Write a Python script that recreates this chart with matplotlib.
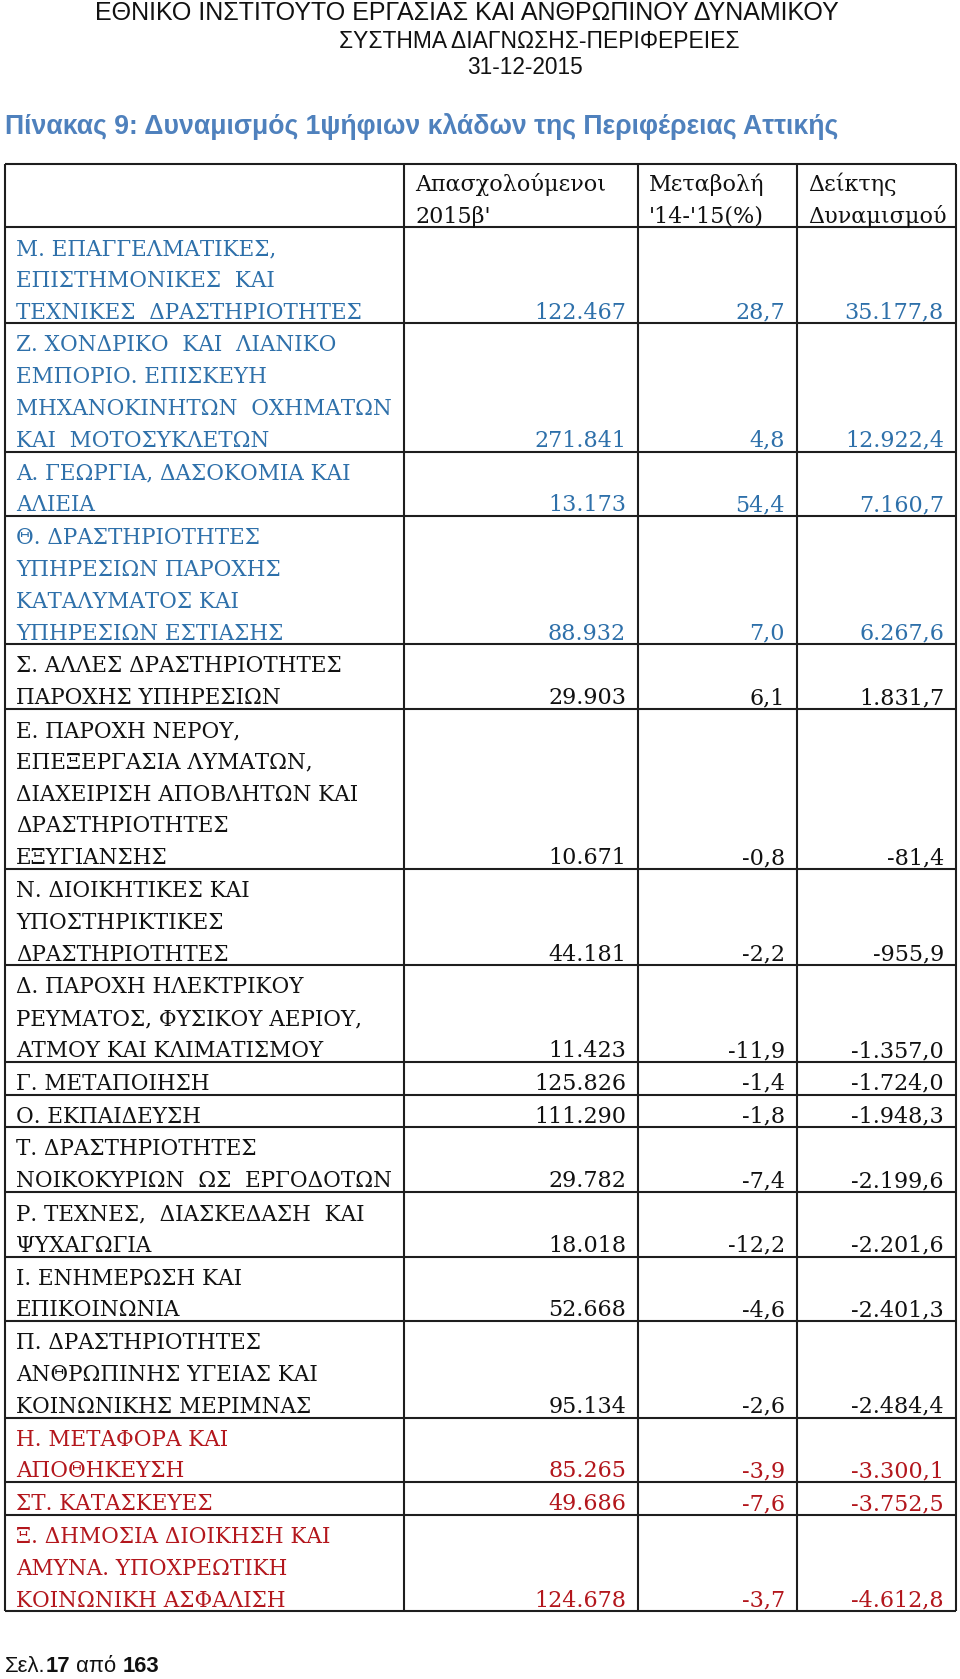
import numpy as np
import matplotlib
matplotlib.use("Agg")
import matplotlib.pyplot as plt

# page header / title
org_lines = ["ΕΘΝΙΚΟ ΙΝΣΤΙΤΟΥΤΟ ΕΡΓΑΣΙΑΣ ΚΑΙ ΑΝΘΡΩΠΙΝΟΥ ΔΥΝΑΜΙΚΟΥ",
             "ΣΥΣΤΗΜΑ ΔΙΑΓΝΩΣΗΣ-ΠΕΡΙΦΕΡΕΙΕΣ",
             "31-12-2015"]
title = "Πίνακας 9: Δυναμισμός 1ψήφιων κλάδων της Περιφέρειας Αττικής"
col_heads = ["Απασχολούμενοι\n2015β'", "Μεταβολή\n'14-'15(%)", "Δείκτης\nΔυναμισμού"]

# table data
sectors = [
    "Μ. ΕΠΑΓΓΕΛΜΑΤΙΚΕΣ,\nΕΠΙΣΤΗΜΟΝΙΚΕΣ  ΚΑΙ\nΤΕΧΝΙΚΕΣ  ΔΡΑΣΤΗΡΙΟΤΗΤΕΣ",
    "Ζ. ΧΟΝΔΡΙΚΟ  ΚΑΙ  ΛΙΑΝΙΚΟ\nΕΜΠΟΡΙΟ. ΕΠΙΣΚΕΥΗ\nΜΗΧΑΝΟΚΙΝΗΤΩΝ  ΟΧΗΜΑΤΩΝ\nΚΑΙ  ΜΟΤΟΣΥΚΛΕΤΩΝ",
    "Α. ΓΕΩΡΓΙΑ, ΔΑΣΟΚΟΜΙΑ ΚΑΙ\nΑΛΙΕΙΑ",
    "Θ. ΔΡΑΣΤΗΡΙΟΤΗΤΕΣ\nΥΠΗΡΕΣΙΩΝ ΠΑΡΟΧΗΣ\nΚΑΤΑΛΥΜΑΤΟΣ ΚΑΙ\nΥΠΗΡΕΣΙΩΝ ΕΣΤΙΑΣΗΣ",
    "Σ. ΑΛΛΕΣ ΔΡΑΣΤΗΡΙΟΤΗΤΕΣ\nΠΑΡΟΧΗΣ ΥΠΗΡΕΣΙΩΝ",
    "Ε. ΠΑΡΟΧΗ ΝΕΡΟΥ,\nΕΠΕΞΕΡΓΑΣΙΑ ΛΥΜΑΤΩΝ,\nΔΙΑΧΕΙΡΙΣΗ ΑΠΟΒΛΗΤΩΝ ΚΑΙ\nΔΡΑΣΤΗΡΙΟΤΗΤΕΣ\nΕΞΥΓΙΑΝΣΗΣ",
    "Ν. ΔΙΟΙΚΗΤΙΚΕΣ ΚΑΙ\nΥΠΟΣΤΗΡΙΚΤΙΚΕΣ\nΔΡΑΣΤΗΡΙΟΤΗΤΕΣ",
    "Δ. ΠΑΡΟΧΗ ΗΛΕΚΤΡΙΚΟΥ\nΡΕΥΜΑΤΟΣ, ΦΥΣΙΚΟΥ ΑΕΡΙΟΥ,\nΑΤΜΟΥ ΚΑΙ ΚΛΙΜΑΤΙΣΜΟΥ",
    "Γ. ΜΕΤΑΠΟΙΗΣΗ",
    "Ο. ΕΚΠΑΙΔΕΥΣΗ",
    "Τ. ΔΡΑΣΤΗΡΙΟΤΗΤΕΣ\nΝΟΙΚΟΚΥΡΙΩΝ  ΩΣ  ΕΡΓΟΔΟΤΩΝ",
    "Ρ. ΤΕΧΝΕΣ,  ΔΙΑΣΚΕΔΑΣΗ  ΚΑΙ\nΨΥΧΑΓΩΓΙΑ",
    "Ι. ΕΝΗΜΕΡΩΣΗ ΚΑΙ\nΕΠΙΚΟΙΝΩΝΙΑ",
    "Π. ΔΡΑΣΤΗΡΙΟΤΗΤΕΣ\nΑΝΘΡΩΠΙΝΗΣ ΥΓΕΙΑΣ ΚΑΙ\nΚΟΙΝΩΝΙΚΗΣ ΜΕΡΙΜΝΑΣ",
    "Η. ΜΕΤΑΦΟΡΑ ΚΑΙ\nΑΠΟΘΗΚΕΥΣΗ",
    "ΣΤ. ΚΑΤΑΣΚΕΥΕΣ",
    "Ξ. ΔΗΜΟΣΙΑ ΔΙΟΙΚΗΣΗ ΚΑΙ\nΑΜΥΝΑ. ΥΠΟΧΡΕΩΤΙΚΗ\nΚΟΙΝΩΝΙΚΗ ΑΣΦΑΛΙΣΗ",
]
employed = [122467, 271841, 13173, 88932, 29903, 10671, 44181, 11423,
            125826, 111290, 29782, 18018, 52668, 95134, 85265, 49686, 124678]
change_pct = [28.7, 4.8, 54.4, 7.0, 6.1, -0.8, -2.2, -11.9,
              -1.4, -1.8, -7.4, -12.2, -4.6, -2.6, -3.9, -7.6, -3.7]
dynamism = [35177.8, 12922.4, 7160.7, 6267.6, 1831.7, -81.4, -955.9, -1357.0,
            -1724.0, -1948.3, -2199.6, -2201.6, -2401.3, -2484.4, -3300.1, -3752.5, -4612.8]
tone = ["top"] * 4 + ["mid"] * 10 + ["low"] * 3

footer = [("Σελ.", "normal"), ("17", "bold"), (" από ", "normal"), ("163", "bold")]

tone_colors = {"top": "#2e70aa", "mid": "#111111", "low": "#b3161c"}


# greek number format: 1.234,5
def fmt_int(v):
    return f"{v:,d}".replace(",", ".")

def fmt_dec(v):
    s = f"{v:,.1f}"
    return s.replace(",", "X").replace(".", ",").replace("X", ".")


W, H = 960, 1679
fig = plt.figure(figsize=(W / 100, H / 100), dpi=100)
ax = fig.add_axes([0, 0, 1, 1])
ax.set_xlim(0, W)
ax.set_ylim(H, 0)
ax.axis("off")

head_font = ["Liberation Sans", "DejaVu Sans"]
body_font = ["DejaVu Serif", "Liberation Serif"]

ax.text(467, 13, org_lines[0], family=head_font, fontsize=18, ha="center", va="center", color="#111111")
ax.text(539, 41, org_lines[1], family=head_font, fontsize=16.5, ha="center", va="center", color="#111111")
ax.text(525, 68, org_lines[2], family=head_font, fontsize=16.3, ha="center", va="center", color="#111111")
ax.text(5, 126, title, family=head_font, fontsize=19.2, fontweight="bold", ha="left", va="center",
        color="#4f81bd")

# table geometry
x_edges = [5, 404, 638, 797, 956]
top = 164
head_h = 63
line_h = 31.8
fs_label = 15.5
fs_num = 16

n_lines = [s.count("\n") + 1 for s in sectors]
heights = [n * line_h + 1 for n in n_lines]
y_edges = np.concatenate([[top, top + head_h], top + head_h + np.cumsum(heights)])

ax.hlines(y_edges, x_edges[0], x_edges[-1], color="#1e1e1e", lw=1.5)
ax.vlines(x_edges, y_edges[0], y_edges[-1], color="#1e1e1e", lw=1.5)

# column headers
for j, head in enumerate(col_heads):
    for k, part in enumerate(head.split("\n")):
        ax.text(x_edges[j + 1] + 11, top + 27 + k * line_h, part, family=body_font, fontsize=fs_num,
                ha="left", va="baseline", color="#111111")

# rows
for i, label in enumerate(sectors):
    c = tone_colors[tone[i]]
    y0 = y_edges[i + 1]
    lines = label.split("\n")
    for k, part in enumerate(lines):
        ax.text(16, y0 + 28 + k * line_h, part, family=body_font, fontsize=fs_label,
                ha="left", va="baseline", color=c)
    yb = y0 + 28 + (len(lines) - 1) * line_h
    vals = [fmt_int(employed[i]), fmt_dec(change_pct[i]), fmt_dec(dynamism[i])]
    for j, v in enumerate(vals):
        ax.text(x_edges[j + 2] - 12, yb, v, family=body_font, fontsize=fs_num,
                ha="right", va="baseline", color=c)

# footer with bold page numbers
renderer = fig.canvas.get_renderer()
x = 5
for part, weight in footer:
    t = ax.text(x, 1666, part, family=head_font, fontsize=15.8, fontweight=weight,
                ha="left", va="center", color="#111111")
    bb = t.get_window_extent(renderer)
    x += bb.width

fig.savefig("out.png", dpi=100)
